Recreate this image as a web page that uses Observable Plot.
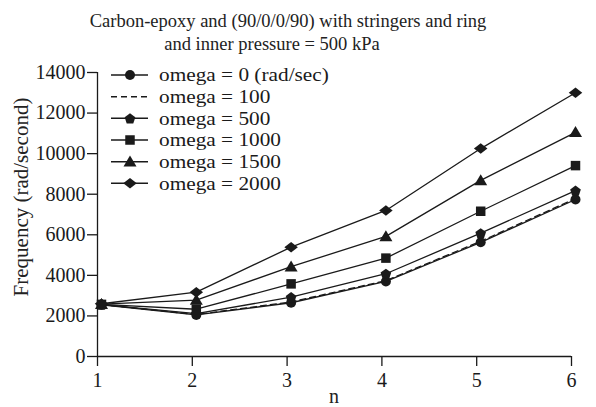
<!DOCTYPE html>
<html>
<head>
<meta charset="utf-8">
<script src="https://cdn.jsdelivr.net/npm/d3@7"></script>
<script src="https://cdn.jsdelivr.net/npm/@observablehq/plot@0.6"></script>
<style>
  html, body { margin: 0; padding: 0; background: #fff; }
  #wrap { position: relative; width: 596px; height: 407px; background: #fff; font-family: "Liberation Serif", "Times New Roman", serif; color: #222; overflow: hidden; }
  .t { position: absolute; white-space: nowrap; font-size: 18.5px; line-height: 1; transform: translate(-50%, -50%); }
  #chart { position: absolute; left: 0; top: 55px; }
  #legend { position: absolute; left: 0; top: 0; pointer-events: none; }
</style>
</head>
<body>
<div id="wrap">
  <div class="t" style="left:288px; top:21px;">Carbon-epoxy and (90/0/0/90) with stringers and ring</div>
  <div class="t" style="left:272px; top:44px;">and inner pressure = 500 kPa</div>
  <div id="chart"></div>
  <div class="t" style="left:334px; top:396px; font-size:20px; line-height:0.8;">n</div>
  <div class="t" style="left:21px; top:197px; font-size:21px; transform: translate(-50%, -50%) rotate(-90deg);">Frequency (rad/second)</div>
</div>
<script>
// ---- data ----
const nValues = [1, 2, 3, 4, 5, 6];
const seriesNames = ["omega = 0 (rad/sec)", "omega = 100", "omega = 500", "omega = 1000", "omega = 1500", "omega = 2000"];
const omega0    = [2550, 2050, 2650, 3700, 5630, 7740];
const omega100  = [2560, 2070, 2690, 3740, 5680, 7790];
const omega500  = [2560, 2110, 2930, 4080, 6080, 8180];
const omega1000 = [2570, 2330, 3580, 4850, 7160, 9410];
const omega1500 = [2580, 2780, 4430, 5920, 8680, 11050];
const omega2000 = [2600, 3170, 5390, 7200, 10250, 13000];
const yTicks = [0, 2000, 4000, 6000, 8000, 10000, 12000, 14000];
const xTicks = [1, 2, 3, 4, 5, 6];

// ---- custom symbols (size = area, r = sqrt(size/pi)) ----
const rad = s => Math.sqrt(s / Math.PI);
function poly(ctx, pts) { ctx.moveTo(pts[0][0], pts[0][1]); for (let i = 1; i < pts.length; i++) ctx.lineTo(pts[i][0], pts[i][1]); ctx.closePath(); }
const symCircle = { draw(ctx, s) { const r = rad(s); ctx.moveTo(r, 0); ctx.arc(0, 0, r, 0, 2 * Math.PI); } };
const symPentagon = { draw(ctx, s) { const r = rad(s) * 1.12; const pts = []; for (let k = 0; k < 5; k++) { const a = -Math.PI / 2 + k * 2 * Math.PI / 5; pts.push([r * Math.cos(a), r * Math.sin(a) + 0.6]); } poly(ctx, pts); } };
const symSquare = { draw(ctx, s) { const h = rad(s) * 0.95; poly(ctx, [[-h, -h], [h, -h], [h, h], [-h, h]]); } };
const symTriangle = { draw(ctx, s) { const r = rad(s); poly(ctx, [[0, -r * 1.25], [r * 1.3, r * 0.95], [-r * 1.3, r * 0.95]]); } };
const symDiamond = { draw(ctx, s) { const r = rad(s); poly(ctx, [[0, -r * 1.05], [r * 1.35, 0], [0, r * 1.05], [-r * 1.35, 0]]); } };

const seriesValues = [omega0, omega100, omega500, omega1000, omega1500, omega2000];
const seriesSymbols = [symCircle, null, symPentagon, symSquare, symTriangle, symDiamond];
const seriesDash = [null, "6,4", null, null, null, null];

const rows = [];
seriesNames.forEach((name, i) => nValues.forEach((n, j) => rows.push({ series: name, n, f: seriesValues[i][j] })));

const ink = "#1a1a1a";
const fontFamily = '"Liberation Serif", "Times New Roman", serif';
const marks = [];
seriesNames.forEach((name, i) => {
  const d = rows.filter(r => r.series === name);
  marks.push(Plot.line(d, { x: "n", y: "f", stroke: ink, strokeWidth: 1.3, strokeDasharray: seriesDash[i] || undefined, dx: 4 }));
  if (seriesSymbols[i]) marks.push(Plot.dot(d, { x: "n", y: "f", symbol: seriesSymbols[i], r: 5, fill: ink, stroke: "none", dx: 4 }));
});

const chart = Plot.plot({
  width: 596,
  height: 352,
  marginTop: 17,
  marginBottom: 51,
  marginLeft: 97,
  marginRight: 25,
  style: { fontFamily, background: "transparent", color: ink, overflow: "visible" },
  x: { domain: [1, 6] },
  y: { domain: [0, 14000] },
  marks: [
    Plot.axisY({ ticks: yTicks, tickSize: 10, tickPadding: 2, fontSize: 20, label: null, tickFormat: d => String(d), stroke: ink, fill: ink, strokeWidth: 1.3 }),
    Plot.axisX({ ticks: xTicks, tickSize: 10, tickPadding: 6, fontSize: 20, label: null, tickFormat: d => String(d), stroke: ink, fill: ink, strokeWidth: 1.3 }),
    Plot.ruleX([1], { stroke: ink, strokeWidth: 1.3 }),
    Plot.ruleY([0], { stroke: ink, strokeWidth: 1.3 }),
    ...marks
  ]
});
document.getElementById("chart").appendChild(chart);

// ---- legend ----
const rowY = [75, 96.7, 118.3, 140, 161.7, 183.3];
const svg = d3.select("#wrap").append("svg").attr("id", "legend").attr("width", 596).attr("height", 407);
seriesNames.forEach((name, i) => {
  const g = svg.append("g").attr("transform", `translate(0,${rowY[i]})`);
  g.append("line").attr("x1", 111).attr("x2", 148).attr("y1", 0).attr("y2", 0)
    .attr("stroke", ink).attr("stroke-width", 1.5).attr("stroke-dasharray", seriesDash[i] || null);
  if (seriesSymbols[i]) {
    const p = d3.path(); seriesSymbols[i].draw(p, Math.PI * 25);
    g.append("path").attr("d", p.toString()).attr("transform", "translate(130,0)").attr("fill", ink);
  }
  const t = g.append("text").attr("x", 159).attr("y", 0).attr("dy", "0.33em").attr("font-family", fontFamily)
    .attr("font-size", 19.4).attr("fill", ink).text(name);
  const w = t.node().getComputedTextLength();
  t.attr("textLength", w * 21.3 / 19.4).attr("lengthAdjust", "spacingAndGlyphs");
});
</script>
</body>
</html>
